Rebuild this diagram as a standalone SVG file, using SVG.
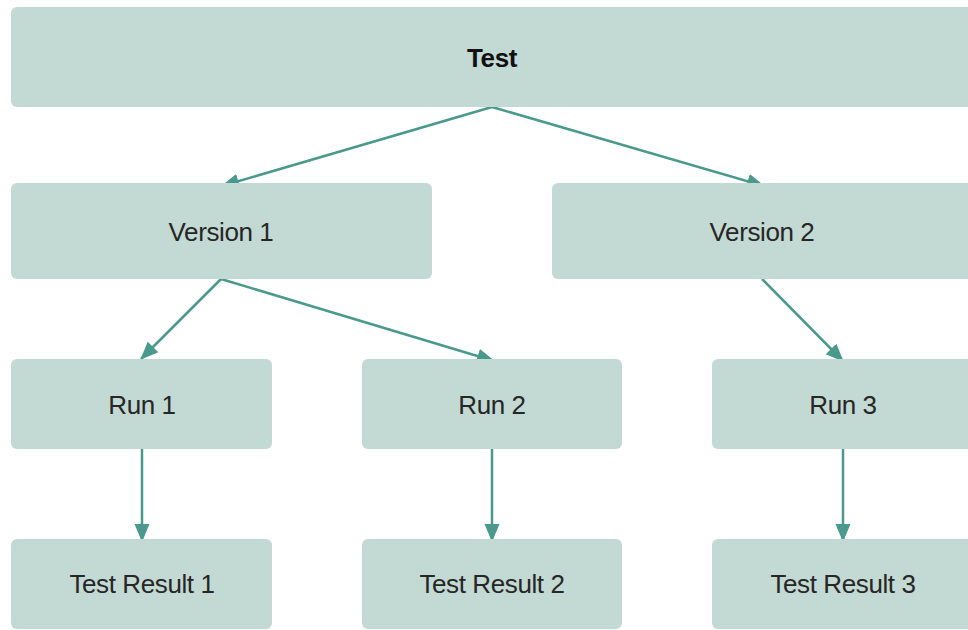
<svg xmlns="http://www.w3.org/2000/svg" width="968" height="630" viewBox="0 0 968 630">
<defs>
<style>
.box{fill:#c3d9d3;}
.lbl{font-family:"Liberation Sans",Arial,sans-serif;font-size:26px;fill:#262626;text-anchor:middle;dominant-baseline:central;letter-spacing:-0.4px;}
.bold{font-weight:bold;fill:#111111;}
.conn{stroke:#4a998d;stroke-width:2.5;fill:none;}
</style>
<marker id="ah" markerUnits="userSpaceOnUse" markerWidth="18" markerHeight="18" viewBox="0 0 18 18" refX="17" refY="9" orient="auto">
<path d="M0,1.5 L18,9 L0,16.5 Z" fill="#4a998d"/>
</marker>
</defs>
<rect width="968" height="630" fill="#ffffff"/>
<g id="connectors">
<line class="conn" x1="492" y1="107" x2="222" y2="186" marker-end="url(#ah)"/>
<line class="conn" x1="492" y1="107" x2="764" y2="186" marker-end="url(#ah)"/>
<line class="conn" x1="221" y1="279" x2="141" y2="359" marker-end="url(#ah)"/>
<line class="conn" x1="221" y1="279" x2="494" y2="361" marker-end="url(#ah)"/>
<line class="conn" x1="762" y1="279" x2="843" y2="361" marker-end="url(#ah)"/>
<line class="conn" x1="142" y1="449" x2="142" y2="541" marker-end="url(#ah)"/>
<line class="conn" x1="492" y1="449" x2="492" y2="541" marker-end="url(#ah)"/>
<line class="conn" x1="843" y1="449" x2="843" y2="541" marker-end="url(#ah)"/>
</g>
<g id="test"><rect class="box" x="11" y="7" width="970" height="100" rx="6"/><text class="lbl bold" x="492" y="58">Test</text></g>
<g id="version1"><rect class="box" x="11" y="183" width="421" height="96" rx="6"/><text class="lbl" x="221" y="232">Version 1</text></g>
<g id="version2"><rect class="box" x="552" y="183" width="430" height="96" rx="6"/><text class="lbl" x="762" y="232">Version 2</text></g>
<g id="run1"><rect class="box" x="11" y="359" width="261" height="90" rx="6"/><text class="lbl" x="142" y="405">Run 1</text></g>
<g id="run2"><rect class="box" x="362" y="359" width="260" height="90" rx="6"/><text class="lbl" x="492" y="405">Run 2</text></g>
<g id="run3"><rect class="box" x="712" y="359" width="270" height="90" rx="6"/><text class="lbl" x="843" y="405">Run 3</text></g>
<g id="result1"><rect class="box" x="11" y="539" width="261" height="90" rx="6"/><text class="lbl" x="142" y="584">Test Result 1</text></g>
<g id="result2"><rect class="box" x="362" y="539" width="260" height="90" rx="6"/><text class="lbl" x="492" y="584">Test Result 2</text></g>
<g id="result3"><rect class="box" x="712" y="539" width="270" height="90" rx="6"/><text class="lbl" x="843" y="584">Test Result 3</text></g>
</svg>
